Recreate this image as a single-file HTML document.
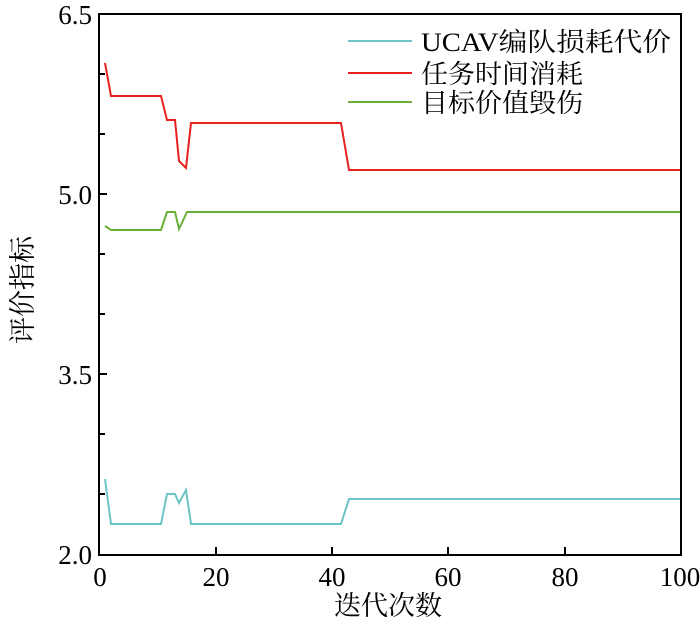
<!DOCTYPE html>
<html><head><meta charset="utf-8"><style>
body{margin:0;background:#fff}
svg text{font-family:"Liberation Serif","Noto Serif CJK SC",serif;fill:#000}
</style></head><body>
<svg width="700" height="628" viewBox="0 0 700 628" xmlns="http://www.w3.org/2000/svg">
<g stroke="#000" stroke-width="2" fill="none">
<rect x="99" y="14" width="582" height="541"/>
<line x1="99" y1="74" x2="105" y2="74"/>
<line x1="99" y1="134" x2="105" y2="134"/>
<line x1="99" y1="194" x2="107" y2="194"/>
<line x1="99" y1="254" x2="105" y2="254"/>
<line x1="99" y1="314" x2="105" y2="314"/>
<line x1="99" y1="374" x2="107" y2="374"/>
<line x1="99" y1="434" x2="105" y2="434"/>
<line x1="99" y1="494" x2="105" y2="494"/>
<line x1="216" y1="555" x2="216" y2="547"/>
<line x1="332" y1="555" x2="332" y2="547"/>
<line x1="448" y1="555" x2="448" y2="547"/>
<line x1="565" y1="555" x2="565" y2="547"/>
</g>
<g font-size="27" text-anchor="end">
<text x="92" y="24">6.5</text>
<text x="92" y="204">5.0</text>
<text x="92" y="384">3.5</text>
<text x="92" y="564">2.0</text>
</g>
<g font-size="27" text-anchor="middle">
<text x="100" y="586">0</text>
<text x="216" y="586">20</text>
<text x="332" y="586">40</text>
<text x="448" y="586">60</text>
<text x="565" y="586">80</text>
<text x="680" y="586">100</text>
<text x="388" y="615">迭代次数</text>
<text transform="translate(32,290) rotate(-90)">评价指标</text>
</g>
<g fill="none" stroke-width="2">
<polyline stroke="#e82020" points="105,63 111,96 161,96 167,120 175,120 179,161 186,168 191,123 341,123 349,170 680,170"/>
<polyline stroke="#6aaf3a" points="105,226 111,230 161,230 167,212 175,212 179,229 187,212 680,212"/>
<polyline stroke="#6cc4c4" points="105,479 111,524 161,524 167,494 175,494 179,503 186,490 191,524 341,524 349,499 680,499"/>
<line x1="348" y1="41" x2="412" y2="41" stroke="#6cc4c4"/>
<line x1="348" y1="73" x2="412" y2="73" stroke="#e82020"/>
<line x1="348" y1="102" x2="412" y2="102" stroke="#6aaf3a"/>
</g>
<g font-size="26">
<text x="421" y="51" textLength="250" lengthAdjust="spacingAndGlyphs">UCAV编队损耗代价</text>
<text x="421" y="83" textLength="162" lengthAdjust="spacingAndGlyphs">任务时间消耗</text>
<text x="421" y="112" textLength="162" lengthAdjust="spacingAndGlyphs">目标价值毁伤</text>
</g>
</svg>
</body></html>
